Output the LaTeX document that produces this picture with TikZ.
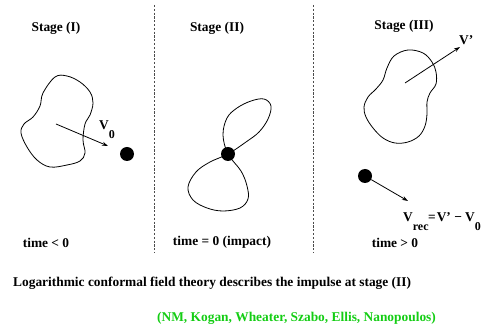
\documentclass[tikz,border=0pt]{standalone}
\usepackage{fontspec}
\setmainfont{Liberation Serif}
\usetikzlibrary{arrows.meta}
\definecolor{refgreen}{RGB}{20,205,20}
\begin{document}
\begin{tikzpicture}[x=1pt,y=-1pt,
  lbl/.style={font=\fontsize{13.4}{15}\selectfont\bfseries, inner sep=0pt},
  sep/.style={draw=black!70, line width=0.7pt, dash pattern=on 2.2pt off 1.6pt},
  curve/.style={draw=black, line width=0.8pt},
  vel/.style={draw=black, line width=0.8pt, -{Stealth[length=6pt,width=4pt]}},
  ball/.style={circle, fill=black, minimum size=14pt, inner sep=0pt}]
\useasboundingbox (0,0) rectangle (482,328);
\newcommand{\lowsub}[1]{\raisebox{-9pt}{\fontsize{12}{14}\selectfont #1}}

% stage separators
\coordinate (s1t) at (154,5);  \coordinate (s1b) at (154,253);
\coordinate (s2t) at (313,5);  \coordinate (s2b) at (313,253);
\draw[sep] (s1t) -- (s1b);
\draw[sep] (s2t) -- (s2b);

% headings and time labels
\node[lbl] (h1) at (56,28) {Stage (I)};
\node[lbl] (h2) at (217,28) {Stage (II)};
\node[lbl] (h3) at (404,26) {Stage (III)};
\node[lbl] (t1) at (46,243) {time < 0};
\node[lbl] (t2) at (222,242) {time = 0 (impact)};
\node[lbl] (t3) at (395,243) {time > 0};

% stage I: incoming string and target
\draw[curve] plot[smooth cycle, tension=0.6] coordinates {
  (43,93) (55,77) (67,76) (80,82) (90,92) (93,103) (90,115) (85,124)
  (83,140) (85,153) (80,161) (67,165) (50,167) (37,160) (27,147)
  (21,133) (24,124) (33,117) (40,106)};
\node[ball] (d1) at (127,154) {};
\coordinate (c1) at (56,124);
\coordinate (e1) at (108,146);
\draw[vel] (c1) -- (e1);
\node[lbl, anchor=base west] (v0) at (99,130) {V\lowsub{0}};

% stage II: pinched string at the impact point
\draw[curve] plot[smooth cycle, tension=0.6] coordinates {
  (228,154) (223,135) (227,118) (237,108) (251,101) (264,99) (271,106)
  (268,119) (259,132) (246,142) (228,154) (210,162) (196,172) (188,187)
  (193,200) (207,208) (223,211) (240,208) (248,199) (247,186) (241,171)};
\node[ball] (d2) at (228,154) {};

% stage III: recoiling string and target
\draw[curve] plot[smooth cycle, tension=0.6] coordinates {
  (408,50) (423,53) (432,62) (436,72) (436,84) (430,93) (427,102)
  (427,114) (425,126) (419,136) (408,142) (395,143) (383,138)
  (373,128) (366,117) (364,107) (368,97) (376,89) (383,80) (387,68)
  (394,56)};
\coordinate (c3) at (405,83);
\coordinate (e3) at (460,47);
\draw[vel] (c3) -- (e3);
\node[lbl, anchor=base west] (vp) at (459,45) {V'};
\node[ball] (d3) at (365,176) {};
\coordinate (e4) at (408,201);
\draw[vel] (d3) -- (e4);
\node[lbl, anchor=base west] (vrec) at (403,222)
  {V\lowsub{rec}\kern-0.5pt=\kern1pt V' − V\lowsub{0}};

% caption lines
\node[lbl, anchor=west] (cap) at (13,283)
  {Logarithmic conformal field theory describes the impulse at stage (II)};
\node[lbl, anchor=west, text=refgreen] (refs) at (157,318)
  {(NM, Kogan, Wheater, Szabo, Ellis, Nanopoulos)};
\end{tikzpicture}
\end{document}
